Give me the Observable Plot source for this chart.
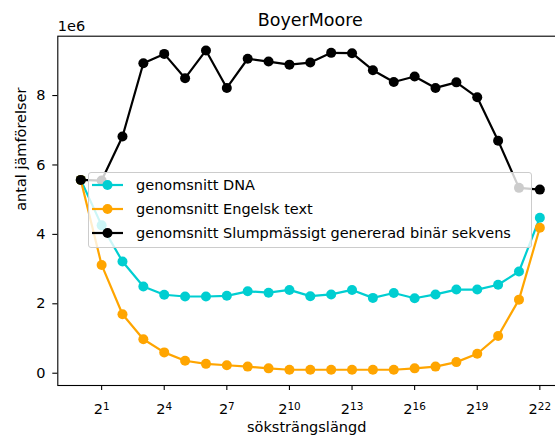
<!DOCTYPE html>
<html>
<head>
<meta charset="utf-8">
<script src="https://cdn.jsdelivr.net/npm/d3@7"></script>
<script src="https://cdn.jsdelivr.net/npm/@observablehq/plot@0.6"></script>
<style>
  html, body { margin: 0; padding: 0; background: white; overflow: hidden; }
  #wrap { position: relative; width: 555px; height: 441px; overflow: hidden; }
  #chart svg { max-width: none !important; }
  #legend { position: absolute; left: 88px; top: 172px; width: 444px; height: 76px;
    box-sizing: border-box; background: rgba(255,255,255,0.8); border: 1px solid #cccccc; border-radius: 3px; }
</style>
</head>
<body>
<div id="wrap"><div id="chart"></div><div id="legend"></div></div>
<script>
const title = "BoyerMoore";
const xLabel = "söksträngslängd";
const yLabel = "antal jämförelser";
const offsetText = "1e6";

const lengths = [1, 2, 4, 8, 16, 32, 64, 128, 256, 512, 1024, 2048, 4096, 8192, 16384, 32768,
  65536, 131072, 262144, 524288, 1048576, 2097152, 4194304];

const dnaValues = [5.57, 4.26, 3.22, 2.50, 2.26, 2.21, 2.21, 2.23, 2.36, 2.32, 2.40, 2.22,
  2.27, 2.40, 2.17, 2.31, 2.16, 2.27, 2.41, 2.41, 2.55, 2.93, 4.48];
const englishValues = [5.57, 3.12, 1.70, 0.98, 0.60, 0.36, 0.27, 0.23, 0.19, 0.14, 0.10, 0.10,
  0.10, 0.10, 0.10, 0.10, 0.14, 0.19, 0.32, 0.56, 1.07, 2.12, 4.19];
const randomValues = [5.57, 5.55, 6.82, 8.93, 9.20, 8.50, 9.30, 8.22, 9.06, 8.98, 8.89, 8.95,
  9.23, 9.22, 8.73, 8.39, 8.55, 8.22, 8.38, 7.95, 6.70, 5.34, 5.29];

const seriesNames = ["genomsnitt DNA", "genomsnitt Engelsk text", "genomsnitt Slumpmässigt genererad binär sekvens"];
const seriesColors = ["#00CED1", "#FFA500", "#000000"];
const seriesValues = [dnaValues, englishValues, randomValues];

const xTicks = [2, 16, 128, 1024, 8192, 65536, 524288, 4194304];
const yTicks = [0, 2e6, 4e6, 6e6, 8e6];

const series = seriesValues.map((vals, k) =>
  vals.map((v, i) => ({len: lengths[i], value: v * 1e6, name: seriesNames[k]})));

const marks = [];
series.forEach((rows, k) => {
  marks.push(Plot.line(rows, {x: "len", y: "value", stroke: seriesColors[k], strokeWidth: 2.2}));
  marks.push(Plot.dot(rows, {x: "len", y: "value", fill: seriesColors[k], r: 5}));
});

const chart = Plot.plot({
  width: 563,
  height: 441,
  marginLeft: 57.3,
  marginRight: 0.7,
  marginTop: 35.7,
  marginBottom: 56,
  style: {fontFamily: "DejaVu Sans", fontSize: "14.5px", color: "#000", background: "white", overflow: "hidden", maxWidth: "none"},
  x: {type: "log", base: 2, domain: [Math.pow(2, -1.1), Math.pow(2, 23.1)]},
  y: {domain: [-0.354e6, 9.71e6]},
  marks: [
    ...marks,
    Plot.frame({stroke: "#000", strokeWidth: 1.1}),
    Plot.axisX({ticks: xTicks, tickFormat: d => "2^" + Math.round(Math.log2(d)), tickSize: 5, tickPadding: 13.5, label: null, strokeWidth: 1.1}),
    Plot.axisY({ticks: yTicks, tickFormat: d => String(d / 1e6), tickSize: 5, tickPadding: 7.3, label: null, strokeWidth: 1.1}),
    Plot.text([title], {frameAnchor: "top", text: d => d, fontSize: 17.5, dy: -16.3, lineAnchor: "middle"}),
    Plot.text([offsetText], {frameAnchor: "top-left", text: d => d, textAnchor: "start", dy: -10.3, lineAnchor: "middle"}),
    Plot.text([xLabel], {frameAnchor: "bottom", text: d => d, dx: -3.6, dy: 42, lineAnchor: "middle"}),
    Plot.text([yLabel], {frameAnchor: "left", text: d => d, rotate: -90, dx: -36, lineAnchor: "middle"})
  ]
});
chart.style.maxWidth = "none";
chart.style.height = "441px";
chart.style.width = "563px";
document.getElementById("chart").appendChild(chart);

// render exponents as superscripts
chart.querySelectorAll("text").forEach(t => {
  const m = /^2\^(\d+)$/.exec(t.textContent);
  if (m) {
    t.textContent = "2";
    const sp = document.createElementNS("http://www.w3.org/2000/svg", "tspan");
    sp.setAttribute("dy", "-0.42em");
    sp.setAttribute("font-size", "0.72em");
    sp.textContent = m[1];
    t.appendChild(sp);
  }
});

// legend
const ns = "http://www.w3.org/2000/svg";
const lsvg = document.createElementNS(ns, "svg");
lsvg.setAttribute("width", 442);
lsvg.setAttribute("height", 74);
lsvg.style.fontFamily = "DejaVu Sans";
lsvg.style.fontSize = "14.5px";
seriesNames.forEach((name, k) => {
  const cy = 12 + k * 24;
  const line = document.createElementNS(ns, "line");
  line.setAttribute("x1", 3); line.setAttribute("x2", 34);
  line.setAttribute("y1", cy); line.setAttribute("y2", cy);
  line.setAttribute("stroke", seriesColors[k]); line.setAttribute("stroke-width", 2.2);
  lsvg.appendChild(line);
  const c = document.createElementNS(ns, "circle");
  c.setAttribute("cx", 18.5); c.setAttribute("cy", cy); c.setAttribute("r", 5);
  c.setAttribute("fill", seriesColors[k]);
  lsvg.appendChild(c);
  const tx = document.createElementNS(ns, "text");
  tx.setAttribute("x", 47); tx.setAttribute("y", cy + 5);
  tx.setAttribute("fill", "#000");
  tx.textContent = name;
  lsvg.appendChild(tx);
});
document.getElementById("legend").appendChild(lsvg);
</script>
</body>
</html>
